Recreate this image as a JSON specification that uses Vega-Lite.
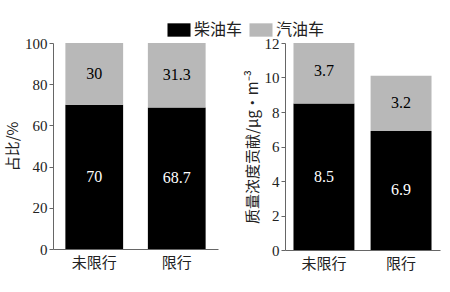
{
  "$schema": "https://vega.github.io/schema/vega-lite/v6.json",
  "padding": {"left": 5, "top": 18, "right": 4, "bottom": 5},
  "background": "white",
  "config": {
    "font": "Liberation Serif, Times New Roman, serif",
    "view": {"stroke": null},
    "axis": {
      "labelFont": "Liberation Serif, Times New Roman, serif",
      "titleFont": "Noto Sans CJK SC",
      "labelFontSize": 15,
      "titleFontSize": 15,
      "titleFontWeight": "normal",
      "labelColor": "#222",
      "titleColor": "#222",
      "domainColor": "#666",
      "tickColor": "#666",
      "labelOverlap": false,
      "grid": false
    },
    "legend": {
      "labelFont": "Noto Sans CJK SC",
      "labelFontSize": 16,
      "labelColor": "#222"
    }
  },
  "datasets": {
    "share": [
      {"cat": "未限行", "type": "柴油车", "v": 70},
      {"cat": "未限行", "type": "汽油车", "v": 30},
      {"cat": "限行", "type": "柴油车", "v": 68.7},
      {"cat": "限行", "type": "汽油车", "v": 31.3}
    ],
    "conc": [
      {"cat": "未限行", "type": "柴油车", "v": 8.5},
      {"cat": "未限行", "type": "汽油车", "v": 3.7},
      {"cat": "限行", "type": "柴油车", "v": 6.9},
      {"cat": "限行", "type": "汽油车", "v": 3.2}
    ]
  },
  "spacing": 27,
  "hconcat": [
    {
      "width": 165,
      "height": 206,
      "data": {"name": "share"},
      "transform": [
        {"stack": "v", "groupby": ["cat"], "sort": [{"field": "type", "order": "ascending"}], "as": ["v0", "v1"]},
        {"calculate": "(datum.v0 + datum.v1) / 2", "as": "mid"}
      ],
      "encoding": {
        "x": {
          "field": "cat", "type": "nominal", "sort": ["未限行", "限行"],
          "scale": {"paddingInner": 0.3, "paddingOuter": 0.15},
          "axis": {"title": null, "labelAngle": 0, "ticks": false, "labelPadding": 6, "labelFont": "Noto Sans CJK SC"}
        }
      },
      "layer": [
        {
          "mark": {"type": "bar"},
          "encoding": {
            "y": {
              "field": "v0", "type": "quantitative",
              "scale": {"domain": [0, 100], "nice": false},
              "axis": {"title": "占比/%", "values": [0, 20, 40, 60, 80, 100], "tickSize": 4, "labelPadding": 2, "titlePadding": 4}
            },
            "y2": {"field": "v1"},
            "color": {
              "field": "type", "type": "nominal",
              "scale": {"domain": ["柴油车", "汽油车"], "range": ["#000000", "#b8b8b8"]},
              "legend": {
                "title": null, "orient": "none", "direction": "horizontal",
                "legendX": 114, "legendY": -25,
                "symbolType": "M-1,-0.58H1V0.58H-1Z", "symbolSize": 530,
                "symbolStrokeWidth": 0, "symbolOpacity": 1,
                "columnPadding": 6, "labelOffset": 3
              }
            }
          }
        },
        {
          "mark": {"type": "text", "fontSize": 16, "font": "Liberation Serif, Times New Roman, serif"},
          "encoding": {
            "y": {
              "field": "mid", "type": "quantitative",
              "axis": {"title": "占比/%", "values": [0, 20, 40, 60, 80, 100], "tickSize": 4, "labelPadding": 2, "titlePadding": 4}
            },
            "text": {"field": "v", "type": "quantitative"},
            "color": {"condition": {"test": "datum.type === '柴油车'", "value": "#ffffff"}, "value": "#000000"}
          }
        }
      ]
    },
    {
      "width": 155,
      "height": 207,
      "data": {"name": "conc"},
      "transform": [
        {"stack": "v", "groupby": ["cat"], "sort": [{"field": "type", "order": "ascending"}], "as": ["v0", "v1"]},
        {"calculate": "(datum.v0 + datum.v1) / 2", "as": "mid"}
      ],
      "encoding": {
        "x": {
          "field": "cat", "type": "nominal", "sort": ["未限行", "限行"],
          "scale": {"paddingInner": 0.21, "paddingOuter": 0.11},
          "axis": {"title": null, "labelAngle": 0, "ticks": false, "labelPadding": 6, "labelFont": "Noto Sans CJK SC"}
        }
      },
      "layer": [
        {
          "mark": {"type": "bar", "clip": true},
          "encoding": {
            "y": {
              "field": "v0", "type": "quantitative",
              "scale": {"domain": [0, 12], "nice": false},
              "axis": {"title": "质量浓度贡献/μg·m⁻³", "values": [0, 2, 4, 6, 8, 10, 12], "tickSize": 4, "labelPadding": 2, "titlePadding": 4}
            },
            "y2": {"field": "v1"},
            "color": {
              "field": "type", "type": "nominal",
              "scale": {"domain": ["柴油车", "汽油车"], "range": ["#000000", "#b8b8b8"]}
            }
          }
        },
        {
          "mark": {"type": "text", "fontSize": 16, "font": "Liberation Serif, Times New Roman, serif"},
          "encoding": {
            "y": {
              "field": "mid", "type": "quantitative",
              "axis": {"title": "质量浓度贡献/μg·m⁻³", "values": [0, 2, 4, 6, 8, 10, 12], "tickSize": 4, "labelPadding": 2, "titlePadding": 4}
            },
            "text": {"field": "v", "type": "quantitative"},
            "color": {"condition": {"test": "datum.type === '柴油车'", "value": "#ffffff"}, "value": "#000000"}
          }
        }
      ]
    }
  ],
  "resolve": {"scale": {"color": "shared"}}
}
